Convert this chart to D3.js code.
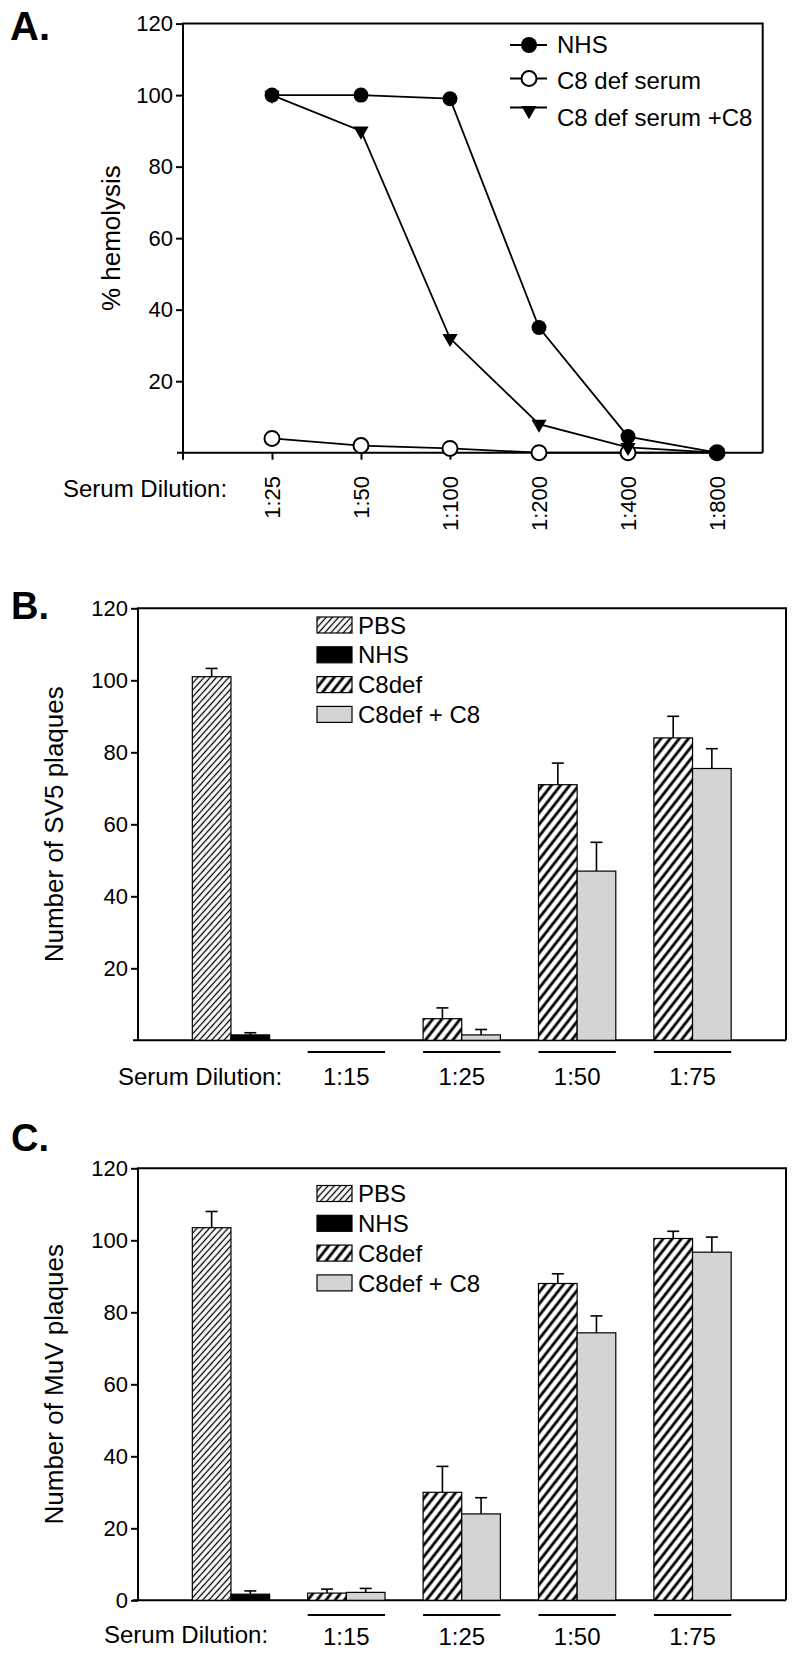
<!DOCTYPE html>
<html>
<head>
<meta charset="utf-8">
<script src="https://cdn.jsdelivr.net/npm/d3@7"></script>
<style>
  html, body { margin: 0; padding: 0; background: #fff; }
  svg { display: block; font-family: "Liberation Sans", Arial, Helvetica, sans-serif; }
</style>
</head>
<body>
<svg id="chart" width="796" height="1658"></svg>
<script>
// ---------- Panel A data ----------
const aCategories = ["1:25", "1:50", "1:100", "1:200", "1:400", "1:800"];
const aNHS = [100, 100, 99, 35, 4.5, 0];
const aC8def = [4, 2, 1.2, 0, 0, 0];
const aC8defPlusC8 = [100, 90, 32, 8, 1.5, 0];
const aTicks = [20, 40, 60, 80, 100, 120];
const aSeriesNames = ["NHS", "C8 def serum", "C8 def serum +C8"];

// ---------- Panels B & C data ----------
const groups = ["control", "1:15", "1:25", "1:50", "1:75"];
const dilutionLabels = ["1:15", "1:25", "1:50", "1:75"];
const barSeriesNames = ["PBS", "NHS", "C8def", "C8def + C8"];

const bPBS = [101], bPBSErr = [2.3];
const bNHS = [1.5], bNHSErr = [0.6];
const bC8def = [0, 6, 71, 84];
const bC8defErr = [0, 3, 6, 6];
const bC8defC8 = [0, 1.5, 47, 75.5];
const bC8defC8Err = [0, 1.5, 8, 5.5];
const bTicks = [20, 40, 60, 80, 100, 120];

const cPBS = [103.5], cPBSErr = [4.5];
const cNHS = [1.7], cNHSErr = [0.9];
const cC8def = [2, 30, 88, 100.5];
const cC8defErr = [1.1, 7.2, 2.7, 2];
const cC8defC8 = [2.2, 24, 74.3, 96.7];
const cC8defC8Err = [1.1, 4.5, 4.7, 4.2];
const cTicks = [0, 20, 40, 60, 80, 100, 120];

const svg = d3.select("#chart");
const defs = svg.append("defs");

function hatch(id, spacing, width, angle) {
  const p = defs.append("pattern").attr("id", id)
    .attr("patternUnits", "userSpaceOnUse")
    .attr("width", spacing).attr("height", spacing)
    .attr("patternTransform", `rotate(${angle})`);
  p.append("rect").attr("width", spacing).attr("height", spacing).attr("fill", "#fff");
  p.append("line").attr("x1", spacing / 2).attr("x2", spacing / 2)
    .attr("y1", 0).attr("y2", spacing)
    .attr("stroke", "#000").attr("stroke-width", width);
}
hatch("pbsHatch", 4.6, 1.3, 42);
hatch("c8Hatch", 7.2, 2.8, 38);

const fills = ["url(#pbsHatch)", "#000", "url(#c8Hatch)", "#d4d4d4"];

// ================= PANEL A =================
{
  const left = 183, right = 762.7, top = 23.6, bottom = 452.7;
  const x = d3.scalePoint().domain(aCategories).range([272, 717]);
  const y = d3.scaleLinear().domain([0, 120]).range([bottom, top]);
  const g = svg.append("g");

  g.append("text").attr("x", 10).attr("y", 40).attr("font-size", 40)
    .attr("font-weight", "bold").text("A.");

  // frame
  g.append("path").attr("d", `M${left},${bottom + 7}V${top}H${right}V${bottom}`)
    .attr("fill", "none").attr("stroke", "#000").attr("stroke-width", 2);
  g.append("line").attr("x1", left - 6).attr("x2", right).attr("y1", bottom).attr("y2", bottom)
    .attr("stroke", "#000").attr("stroke-width", 2);

  const ya = g.append("g").attr("transform", `translate(${left},0)`)
    .call(d3.axisLeft(y).tickValues(aTicks).tickSize(7).tickPadding(3));
  ya.select(".domain").remove();
  ya.selectAll("line").attr("stroke-width", 2);
  ya.selectAll("text").attr("font-size", 22).attr("font-family", null).attr("fill", "#000");

  // x ticks
  const xa = g.append("g").attr("transform", `translate(0,${bottom})`)
    .call(d3.axisBottom(x).tickSize(7).tickFormat(""));
  xa.select(".domain").remove();
  xa.selectAll("line").attr("stroke-width", 2);

  g.selectAll(".xlab").data(aCategories).join("text")
    .attr("transform", d => `translate(${x(d)},476) rotate(-90)`)
    .attr("text-anchor", "end").attr("dy", "0.36em").attr("font-size", 22).text(d => d);

  g.append("text").attr("x", 63).attr("y", 497).attr("font-size", 24).text("Serum Dilution:");

  g.append("text").attr("transform", `translate(120,${(top + bottom) / 2}) rotate(-90)`)
    .attr("text-anchor", "middle").attr("font-size", 26).text("% hemolysis");

  const line = d3.line().x((d, i) => x(aCategories[i])).y(d => y(d));
  const tri = d3.symbol().type(d3.symbolTriangle).size(100);

  // C8 def serum (open circles)
  g.append("path").datum(aC8def).attr("d", line).attr("fill", "none").attr("stroke", "#000").attr("stroke-width", 1.8);
  // C8 def serum + C8
  g.append("path").datum(aC8defPlusC8).attr("d", line).attr("fill", "none").attr("stroke", "#000").attr("stroke-width", 1.8);
  // NHS
  g.append("path").datum(aNHS).attr("d", line).attr("fill", "none").attr("stroke", "#000").attr("stroke-width", 1.8);

  g.selectAll(".oc").data(aC8def).join("circle")
    .attr("cx", (d, i) => x(aCategories[i])).attr("cy", d => y(d)).attr("r", 7.5)
    .attr("fill", "#fff").attr("stroke", "#000").attr("stroke-width", 2);
  g.selectAll(".tr").data(aC8defPlusC8).join("path")
    .attr("d", tri).attr("transform", (d, i) => `translate(${x(aCategories[i])},${y(d)}) rotate(180)`)
    .attr("fill", "#000");
  g.selectAll(".fc").data(aNHS).join("circle")
    .attr("cx", (d, i) => x(aCategories[i])).attr("cy", d => y(d)).attr("r", 7.5)
    .attr("fill", "#000");

  // legend
  const lgx1 = 510, lgx2 = 547, lgm = 529, ltx = 557;
  const lgRows = [45, 78.5, 107.5];
  const lgBase = [52.7, 89.3, 126];
  lgRows.forEach((ry, i) => {
    g.append("line").attr("x1", lgx1).attr("x2", lgx2).attr("y1", ry).attr("y2", ry)
      .attr("stroke", "#000").attr("stroke-width", 2);
    g.append("text").attr("x", ltx).attr("y", lgBase[i]).attr("font-size", 24).text(aSeriesNames[i]);
  });
  g.append("circle").attr("cx", lgm).attr("cy", lgRows[0]).attr("r", 8).attr("fill", "#000");
  g.append("circle").attr("cx", lgm).attr("cy", lgRows[1]).attr("r", 7.5).attr("fill", "#fff")
    .attr("stroke", "#000").attr("stroke-width", 2);
  g.append("path").attr("d", tri).attr("transform", `translate(${lgm},${lgRows[2] + 3}) rotate(180)`).attr("fill", "#000");
}

// ================= PANELS B & C =================
function barPanel(opts) {
  const left = 138, right = 786, top = opts.top, bottom = opts.top + 432;
  const g = svg.append("g");
  const x = d3.scaleBand().domain(groups).range([137.5, 786]).paddingInner(0.33).paddingOuter(0.475);
  const xs = d3.scaleBand().domain([0, 1]).range([0, x.bandwidth()]);
  const y = d3.scaleLinear().domain([0, 120]).range([bottom, top]);

  g.append("text").attr("x", 11).attr("y", opts.labelY).attr("font-size", 38)
    .attr("font-weight", "bold").text(opts.label);

  // frame
  g.append("path").attr("d", `M${left},${bottom}V${top}H${right}V${bottom}`)
    .attr("fill", "none").attr("stroke", "#000").attr("stroke-width", 2);
  g.append("line").attr("x1", left - 5).attr("x2", right).attr("y1", bottom).attr("y2", bottom)
    .attr("stroke", "#000").attr("stroke-width", 2);

  const ya = g.append("g").attr("transform", `translate(${left},0)`)
    .call(d3.axisLeft(y).tickValues(opts.ticks).tickSize(7).tickPadding(3));
  ya.select(".domain").remove();
  ya.selectAll("line").attr("stroke-width", 2);
  ya.selectAll("text").attr("font-size", 22).attr("font-family", null).attr("fill", "#000");

  g.append("text").attr("transform", `translate(63,${(top + bottom) / 2}) rotate(-90)`)
    .attr("text-anchor", "middle").attr("font-size", 26).text(opts.ytitle);

  // bars: control group
  const ctrl = [
    { v: opts.pbs[0], e: opts.pbsErr[0], f: fills[0], g: "control", s: 0 },
    { v: opts.nhs[0], e: opts.nhsErr[0], f: fills[1], g: "control", s: 1 }
  ];
  const rest = [];
  dilutionLabels.forEach((lab, i) => {
    rest.push({ v: opts.c8[i], e: opts.c8Err[i], f: fills[2], g: lab, s: 0 });
    rest.push({ v: opts.c8c8[i], e: opts.c8c8Err[i], f: fills[3], g: lab, s: 1 });
  });
  const bars = ctrl.concat(rest).filter(d => d.v > 0);

  const bx = d => x(d.g) + xs(d.s);
  g.selectAll(".err").data(bars).join("g").each(function (d) {
    const cx = bx(d) + xs.bandwidth() / 2;
    const s = d3.select(this);
    s.append("line").attr("x1", cx).attr("x2", cx).attr("y1", y(d.v)).attr("y2", y(d.v + d.e))
      .attr("stroke", "#000").attr("stroke-width", 1.6);
    s.append("line").attr("x1", cx - 6).attr("x2", cx + 6).attr("y1", y(d.v + d.e)).attr("y2", y(d.v + d.e))
      .attr("stroke", "#000").attr("stroke-width", 1.6);
  });
  g.selectAll(".bar").data(bars).join("rect")
    .attr("x", bx).attr("width", xs.bandwidth())
    .attr("y", d => y(d.v)).attr("height", d => bottom - y(d.v))
    .attr("fill", d => d.f).attr("stroke", "#000").attr("stroke-width", 1.2);

  // group underlines + labels
  g.selectAll(".ul").data(dilutionLabels).join("line")
    .attr("x1", d => x(d)).attr("x2", d => x(d) + x.bandwidth())
    .attr("y1", opts.ulY).attr("y2", opts.ulY).attr("stroke", "#000").attr("stroke-width", 2);
  g.selectAll(".gl").data(dilutionLabels).join("text")
    .attr("x", d => x(d) + x.bandwidth() / 2).attr("y", opts.labBase)
    .attr("text-anchor", "middle").attr("font-size", 24).text(d => d);
  g.append("text").attr("x", opts.sdX).attr("y", opts.sdBase).attr("font-size", 24).text("Serum Dilution:");

  // legend
  barSeriesNames.forEach((nm, i) => {
    const cy = opts.legTop + i * 29.8;
    g.append("rect").attr("x", 317).attr("y", cy - 8).attr("width", 35).attr("height", 16)
      .attr("fill", fills[i]).attr("stroke", "#000").attr("stroke-width", 1.2);
    g.append("text").attr("x", 358).attr("y", cy).attr("dy", "0.36em").attr("font-size", 24).text(nm);
  });
}

barPanel({
  top: 608.3, label: "B.", labelY: 619, ticks: bTicks, ytitle: "Number of SV5 plaques",
  pbs: bPBS, pbsErr: bPBSErr, nhs: bNHS, nhsErr: bNHSErr,
  c8: bC8def, c8Err: bC8defErr, c8c8: bC8defC8, c8c8Err: bC8defC8Err,
  ulY: 1052, labBase: 1085, sdX: 118, sdBase: 1085, legTop: 625
});
barPanel({
  top: 1168.3, label: "C.", labelY: 1151, ticks: cTicks, ytitle: "Number of MuV plaques",
  pbs: cPBS, pbsErr: cPBSErr, nhs: cNHS, nhsErr: cNHSErr,
  c8: cC8def, c8Err: cC8defErr, c8c8: cC8defC8, c8c8Err: cC8defC8Err,
  ulY: 1615, labBase: 1645, sdX: 104, sdBase: 1643, legTop: 1193.5
});
</script>
</body>
</html>
